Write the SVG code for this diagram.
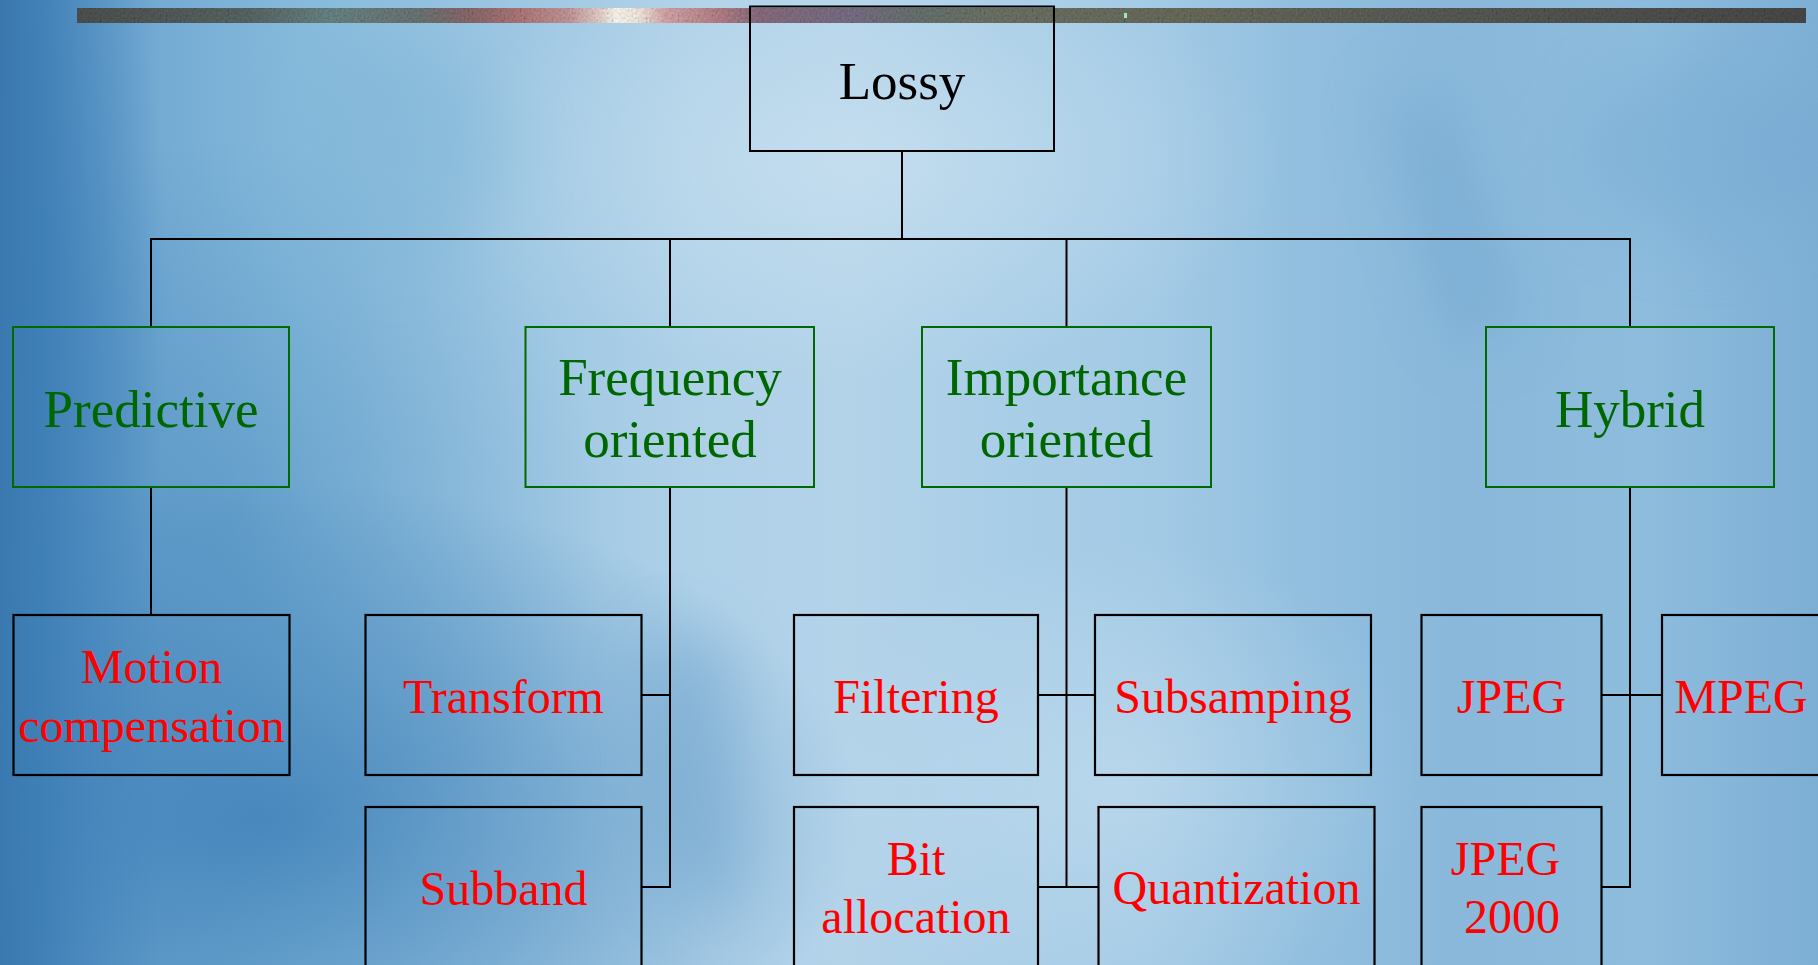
<svg xmlns="http://www.w3.org/2000/svg" width="1818" height="965" viewBox="0 0 1818 965">
  <defs>
    <linearGradient id="sky" x1="0" y1="0" x2="1818" y2="0" gradientUnits="userSpaceOnUse">
      <stop offset="0" stop-color="#3a76ac"/>
      <stop offset="0.022" stop-color="#4281b6"/>
      <stop offset="0.05" stop-color="#5994c5"/>
      <stop offset="0.088" stop-color="#74abd3"/>
      <stop offset="0.165" stop-color="#86badb"/>
      <stop offset="0.275" stop-color="#9cc6e2"/>
      <stop offset="0.385" stop-color="#afd1e8"/>
      <stop offset="0.467" stop-color="#b3d3e9"/>
      <stop offset="0.55" stop-color="#a9cee7"/>
      <stop offset="0.633" stop-color="#a3cae5"/>
      <stop offset="0.715" stop-color="#92bfdf"/>
      <stop offset="0.8" stop-color="#89b8da"/>
      <stop offset="0.907" stop-color="#8dbcdd"/>
      <stop offset="1" stop-color="#7daed4"/>
    </linearGradient>
    <radialGradient id="darkPool" cx="0.5" cy="0.5" r="0.5">
      <stop offset="0" stop-color="#3a7db6" stop-opacity="0.8"/>
      <stop offset="1" stop-color="#3a7db6" stop-opacity="0"/>
    </radialGradient>
    <radialGradient id="lightPool" cx="0.5" cy="0.5" r="0.5">
      <stop offset="0" stop-color="#cde3f1" stop-opacity="0.8"/>
      <stop offset="1" stop-color="#cde3f1" stop-opacity="0"/>
    </radialGradient>
    <linearGradient id="band" x1="77" y1="0" x2="1806" y2="0" gradientUnits="userSpaceOnUse">
      <stop offset="0" stop-color="#4f5250"/>
      <stop offset="0.10" stop-color="#5a6866"/>
      <stop offset="0.146" stop-color="#6a8686"/>
      <stop offset="0.198" stop-color="#6e7676"/>
      <stop offset="0.227" stop-color="#8c6a6c"/>
      <stop offset="0.256" stop-color="#b07a7c"/>
      <stop offset="0.285" stop-color="#c89a9c"/>
      <stop offset="0.302" stop-color="#e8d2cc"/>
      <stop offset="0.312" stop-color="#fffdf2"/>
      <stop offset="0.325" stop-color="#f8ece2"/>
      <stop offset="0.340" stop-color="#d8aaac"/>
      <stop offset="0.372" stop-color="#b88088"/>
      <stop offset="0.395" stop-color="#8a6e80"/>
      <stop offset="0.447" stop-color="#7a7088"/>
      <stop offset="0.487" stop-color="#6a7470"/>
      <stop offset="0.534" stop-color="#6e7466"/>
      <stop offset="0.65" stop-color="#6a6c5c"/>
      <stop offset="0.765" stop-color="#5c5e58"/>
      <stop offset="1" stop-color="#4a4a4a"/>
    </linearGradient>
    <filter id="soft" x="-50%" y="-50%" width="200%" height="200%">
      <feGaussianBlur stdDeviation="34"/>
    </filter>
    <filter id="grain" x="0" y="0" width="100%" height="100%">
      <feTurbulence type="fractalNoise" baseFrequency="0.5 0.4" numOctaves="1" seed="7" result="noise"/>
      <feColorMatrix in="noise" type="saturate" values="0" result="grey"/>
      <feComponentTransfer in="grey" result="contrast">
        <feFuncR type="linear" slope="1.8" intercept="-0.3"/>
        <feFuncG type="linear" slope="1.8" intercept="-0.3"/>
        <feFuncB type="linear" slope="1.8" intercept="-0.3"/>
      </feComponentTransfer>
      <feBlend in="SourceGraphic" in2="contrast" mode="multiply" result="mix"/>
      <feComposite in="mix" in2="SourceGraphic" operator="in"/>
    </filter>
    <style>
      .line { fill: none; stroke: #000; stroke-width: 2; }
      .group-box { fill: none; stroke: #006a00; stroke-width: 2; }
      .leaf-box { fill: none; stroke: #000; stroke-width: 2.2; }
      .root-box { fill: none; stroke: #000; stroke-width: 2; }
      text { font-family: "Liberation Serif", "Times New Roman", serif; text-anchor: middle; }
      .root-label { font-size: 53px; fill: #000; }
      .group-label { font-size: 53px; fill: #006600; }
      .leaf-label { font-size: 48px; fill: #ff0000; }
    </style>
  </defs>

  <!-- sky backdrop -->
  <g id="background">
    <rect x="0" y="0" width="1818" height="965" fill="url(#sky)"/>
    <ellipse cx="860" cy="160" rx="420" ry="220" fill="url(#lightPool)" opacity="0.8"/>
    <ellipse cx="1120" cy="780" rx="300" ry="240" fill="url(#lightPool)" opacity="0.6"/>
    <ellipse cx="260" cy="820" rx="600" ry="340" fill="url(#darkPool)"/>
    <ellipse cx="230" cy="520" rx="380" ry="380" fill="url(#darkPool)" opacity="0.5"/>
    <ellipse cx="40" cy="300" rx="130" ry="440" fill="url(#darkPool)" opacity="0.6"/>
    <g filter="url(#soft)" opacity="0.35">
      <path d="M1380 90 L1430 90 L1520 330 L1460 340 Z" fill="#5d97c6"/>
      <path d="M650 640 L720 640 L740 900 L680 900 Z" fill="#4f8cc0"/>
      <ellipse cx="1700" cy="150" rx="120" ry="90" fill="#6fa6d0"/>
      <ellipse cx="400" cy="150" rx="110" ry="110" fill="#78b0d4"/>
    </g>
  </g>

  <!-- title band -->
  <g id="banner">
    <rect x="77" y="8" width="1729" height="15" fill="url(#band)"/>
    <rect x="77" y="8" width="1729" height="15" fill="url(#band)" filter="url(#grain)" opacity="0.7"/>
    <rect x="1124" y="13" width="3" height="5" fill="#9fe8b8"/>
  </g>

  <!-- tree connectors -->
  <g id="connectors">
    <path class="line" d="M902 151 V239"/>
    <path class="line" d="M151 327 V239 H1630 V327"/>
    <path class="line" d="M670 239 V327"/>
    <path class="line" d="M1066.5 239 V327"/>
    <path class="line" d="M151 487 V615"/>
    <path class="line" d="M670 487 V887 H641.5"/>
    <path class="line" d="M641.5 695 H670"/>
    <path class="line" d="M1066.5 487 V887"/>
    <path class="line" d="M1038 695 H1095"/>
    <path class="line" d="M1038 887 H1098.5"/>
    <path class="line" d="M1630 487 V887 H1601.5"/>
    <path class="line" d="M1601.5 695 H1662"/>
  </g>

  <g id="lossy">
    <rect class="root-box" x="750" y="6.5" width="304" height="144.5"/>
    <text class="root-label" x="902" y="99">Lossy</text>
  </g>

  <g id="predictive">
    <rect class="group-box" x="13" y="327" width="276" height="160"/>
    <text class="group-label" x="151" y="426.5">Predictive</text>
  </g>
  <g id="frequency-oriented">
    <rect class="group-box" x="525.5" y="327" width="288.5" height="160"/>
    <text class="group-label" x="670" y="395">Frequency</text>
    <text class="group-label" x="670" y="457">oriented</text>
  </g>
  <g id="importance-oriented">
    <rect class="group-box" x="922" y="327" width="289" height="160"/>
    <text class="group-label" x="1066.5" y="395">Importance</text>
    <text class="group-label" x="1066.5" y="457">oriented</text>
  </g>
  <g id="hybrid">
    <rect class="group-box" x="1486" y="327" width="288" height="160"/>
    <text class="group-label" x="1630" y="426.5">Hybrid</text>
  </g>

  <g id="motion-compensation">
    <rect class="leaf-box" x="13.5" y="615" width="276" height="160"/>
    <text class="leaf-label" x="151.5" y="683.3">Motion</text>
    <text class="leaf-label" x="151.5" y="741.7">compensation</text>
  </g>
  <g id="transform">
    <rect class="leaf-box" x="365.5" y="615" width="276" height="160"/>
    <text class="leaf-label" x="503.5" y="713">Transform</text>
  </g>
  <g id="subband">
    <rect class="leaf-box" x="365.5" y="807" width="276" height="160"/>
    <text class="leaf-label" x="503.5" y="905">Subband</text>
  </g>
  <g id="filtering">
    <rect class="leaf-box" x="794" y="615" width="244" height="160"/>
    <text class="leaf-label" x="916" y="712.7">Filtering</text>
  </g>
  <g id="bit-allocation">
    <rect class="leaf-box" x="794" y="807" width="244" height="160"/>
    <text class="leaf-label" x="916" y="875.3">Bit</text>
    <text class="leaf-label" x="916" y="933.3">allocation</text>
  </g>
  <g id="subsamping">
    <rect class="leaf-box" x="1095" y="615" width="276" height="160"/>
    <text class="leaf-label" x="1233" y="712.7">Subsamping</text>
  </g>
  <g id="quantization">
    <rect class="leaf-box" x="1098.5" y="807" width="276" height="160"/>
    <text class="leaf-label" x="1236.5" y="904.3">Quantization</text>
  </g>
  <g id="jpeg">
    <rect class="leaf-box" x="1421.5" y="615" width="180" height="160"/>
    <text class="leaf-label" x="1511.5" y="712.7">JPEG</text>
  </g>
  <g id="jpeg-2000">
    <rect class="leaf-box" x="1421.5" y="807" width="180" height="160"/>
    <text class="leaf-label" x="1505.5" y="875.3">JPEG</text>
    <text class="leaf-label" x="1512" y="933.3">2000</text>
  </g>
  <g id="mpeg">
    <rect class="leaf-box" x="1662" y="615" width="200" height="160"/>
    <text class="leaf-label" x="1741" y="712.7">MPEG</text>
  </g>
</svg>
